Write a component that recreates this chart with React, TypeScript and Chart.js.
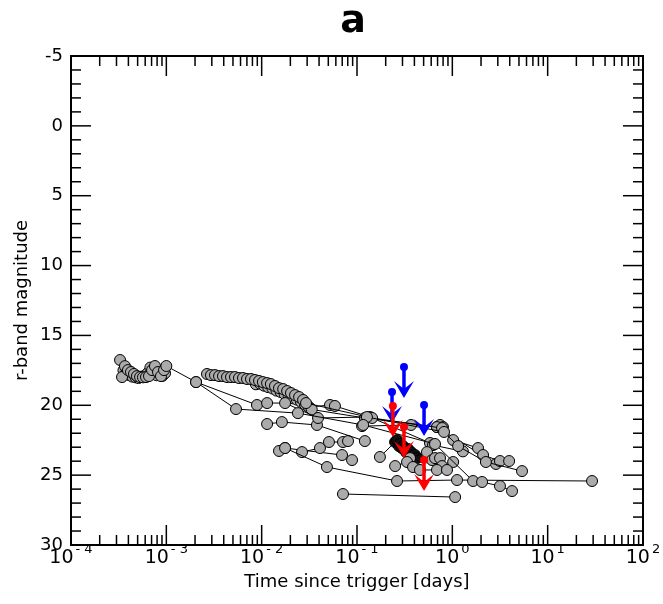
import React, { useEffect, useRef } from "react";
import { Chart, registerables } from "chart.js";
Chart.register(...registerables);

type Pt = [number, number];

// light curves: [time since trigger (days), r-band magnitude]
const curveEarly: Pt[] = [
  [3.27e-4, 16.76], [3.43e-4, 17.98], [3.68e-4, 17.2], [3.96e-4, 17.48], [4.26e-4, 17.62],
  [4.58e-4, 17.76], [4.92e-4, 17.91], [5.3e-4, 17.98], [5.69e-4, 18.0], [6.12e-4, 17.98],
  [6.58e-4, 17.91], [7.08e-4, 17.48], [7.6e-4, 17.19], [8.18e-4, 17.62], [8.79e-4, 17.91],
  [9.46e-4, 17.48], [1.0e-3, 17.19], [2.05e-3, 18.34], [5.38e-3, 20.27], [2.4e-2, 20.56],
  [0.116, 21.41], [0.658, 22.77], [1.65, 25.42], [2.05, 25.49], [3.16, 25.78], [4.23, 26.14],
];
const curveEarlyB: Pt[] = [
  [3.55e-4, 17.5], [3.8e-4, 17.7], [4.1e-4, 17.85], [4.4e-4, 17.95], [4.75e-4, 18.0],
  [5.1e-4, 18.05], [5.5e-4, 17.95], [5.9e-4, 17.9], [6.35e-4, 17.7], [6.8e-4, 17.3],
  [7.3e-4, 17.5], [7.9e-4, 17.85], [8.5e-4, 17.6], [9.1e-4, 17.9], [9.7e-4, 17.7],
];
const curveB: Pt[] = [
  [2.05e-3, 18.34], [8.93e-3, 19.98], [1.14e-2, 19.84], [1.76e-2, 19.84], [3.9e-2, 20.91],
  [0.127, 20.84], [0.818, 21.91], [1.15, 22.92], [2.25, 24.06], [5.38, 24.71],
];
const curveChainA: Pt[] = [
  [2.67e-3, 17.76], [2.94e-3, 17.84], [3.24e-3, 17.84], [3.57e-3, 17.91], [3.93e-3, 17.91],
  [4.33e-3, 17.98], [4.77e-3, 17.98], [5.25e-3, 17.98], [5.78e-3, 18.05], [6.37e-3, 18.05],
  [7.02e-3, 18.12], [7.73e-3, 18.12], [8.51e-3, 18.19], [9.38e-3, 18.26], [1.03e-2, 18.34],
  [1.14e-2, 18.41], [1.25e-2, 18.48], [1.38e-2, 18.62], [1.52e-2, 18.77], [1.68e-2, 18.84],
  [1.85e-2, 18.98], [2.03e-2, 19.12], [2.24e-2, 19.27], [2.47e-2, 19.41], [2.72e-2, 19.62],
  [2.92e-2, 19.84], [0.144, 20.91], [0.78, 21.63], [1.02, 22.49], [1.86, 23.06], [2.1, 23.56],
  [3.16, 23.99], [3.94, 23.99],
];
const curveChainB: Pt[] = [
  [8.7e-3, 18.5], [9.6e-3, 18.45], [1.06e-2, 18.6], [1.17e-2, 18.7], [1.3e-2, 18.8],
  [1.43e-2, 18.95], [1.58e-2, 19.05], [1.74e-2, 19.2], [1.92e-2, 19.35], [2.12e-2, 19.5],
  [2.34e-2, 19.6], [2.58e-2, 19.75], [2.85e-2, 19.95], [3.1e-2, 20.1], [3.35e-2, 20.3],
  [0.121, 20.91], [0.69, 21.56], [2.87, 24.2],
];
const curveC: Pt[] = [[1.14e-2, 21.34], [1.63e-2, 21.2], [3.8e-2, 21.41], [0.121, 22.56]];
const curveD: Pt[] = [
  [1.52e-2, 23.27], [1.76e-2, 23.06], [4.84e-2, 24.42], [0.263, 25.42], [1.12, 25.35], [29.2, 25.42],
];
const curveE: Pt[] = [[2.65e-2, 23.35], [4.09e-2, 23.06], [5.08e-2, 22.63], [7.13e-2, 22.63], [8.05e-2, 22.56]];
const curveF: Pt[] = [[1.76e-2, 23.06], [6.97e-2, 23.56], [8.87e-2, 23.92]];
const curveG: Pt[] = [[7.13e-2, 26.35], [1.07, 26.57]];
const curveH: Pt[] = [[0.251, 24.35], [0.335, 24.06], [0.387, 24.42], [0.458, 24.63], [0.69, 24.63], [0.879, 24.63]];
const curveI: Pt[] = [[0.36, 23.78], [0.542, 23.35], [0.612, 23.92], [0.658, 23.78], [0.743, 23.78], [0.78, 24.35], [1.02, 24.06]];
const curveJ: Pt[] = [[0.113, 21.49], [0.369, 21.41], [0.69, 21.56], [0.743, 21.41], [0.798, 21.56]];
const curveK: Pt[] = [[3.14e-2, 20.13], [5.21e-2, 19.98], [5.87e-2, 20.05], [0.137, 20.84], [0.583, 22.7], [0.627, 22.85], [1.29, 23.3]];
const curveDense: Pt[] = [
  [0.174, 23.7], [0.251, 22.63], [0.263, 22.49], [0.276, 22.92], [0.282, 22.77], [0.296, 23.06],
  [0.304, 22.92], [0.319, 23.2], [0.327, 23.35], [0.343, 23.13], [0.351, 23.49], [0.369, 23.35],
  [0.387, 23.63], [0.406, 23.56], [0.427, 23.78],
];

const greyCurves: Pt[][] = [
  curveEarly, curveEarlyB, curveB, curveChainA, curveChainB, curveC, curveD, curveE, curveF,
  curveG, curveH, curveI, curveJ, curveK,
];

// upper limits (arrows)
const blueLimitTimes = [0.311, 0.233, 0.505];
const blueLimitMags = [17.26, 19.05, 19.98];
const redLimitTimes = [0.238, 0.311, 0.505];
const redLimitMags = [20.05, 21.56, 23.92];

const yTickValues = [-5, 0, 5, 10, 15, 20, 25, 30];
const xTickExponents = [-4, -3, -2, -1, 0, 1, 2];

const titleText = "a";
const xTitle = "Time since trigger [days]";
const yTitle = "r-band magnitude";

const FONT = "'DejaVu Sans', sans-serif";
const GREY = "#ababab";

const decorPlugin = {
  id: "decor",
  afterDatasetsDraw(chart: any) {
    const { ctx, scales } = chart;
    const xs = scales.x, ys = scales.y;
    const drawArrow = (t: number, m: number, color: string) => {
      const px = xs.getPixelForValue(t);
      const py = ys.getPixelForValue(m);
      const tip = py + 31;
      ctx.save();
      ctx.strokeStyle = color;
      ctx.fillStyle = color;
      ctx.lineWidth = 3.5;
      ctx.beginPath();
      ctx.moveTo(px, py);
      ctx.lineTo(px, tip - 8);
      ctx.stroke();
      ctx.beginPath();
      ctx.moveTo(px, tip);
      ctx.lineTo(px - 10, tip - 17);
      ctx.lineTo(px, tip - 9);
      ctx.lineTo(px + 10, tip - 17);
      ctx.closePath();
      ctx.fill();
      ctx.beginPath();
      ctx.arc(px, py, 4, 0, Math.PI * 2);
      ctx.fill();
      ctx.restore();
    };
    blueLimitTimes.forEach((t, i) => drawArrow(t, blueLimitMags[i], "#0000ff"));
    redLimitTimes.forEach((t, i) => drawArrow(t, redLimitMags[i], "#ff0000"));
  },
  afterDraw(chart: any) {
    const { ctx, chartArea: a, scales } = chart;
    const xs = scales.x, ys = scales.y;
    ctx.save();
    ctx.strokeStyle = "#000";
    ctx.lineWidth = 1.5;
    const seg = (x1: number, y1: number, x2: number, y2: number) => {
      ctx.beginPath();
      ctx.moveTo(x1, y1);
      ctx.lineTo(x2, y2);
      ctx.stroke();
    };
    for (let v = -5; v <= 30; v++) {
      const py = ys.getPixelForValue(v);
      const len = v % 5 === 0 ? 20 : 10;
      seg(a.left, py, a.left + len, py);
      seg(a.right, py, a.right - len, py);
    }
    for (const e of xTickExponents) {
      for (let k = 1; k <= 9; k++) {
        const v = k * Math.pow(10, e);
        if (v > 100.0001) break;
        const px = xs.getPixelForValue(v);
        const len = k === 1 ? 20 : 10;
        seg(px, a.bottom, px, a.bottom - len);
        seg(px, a.top, px, a.top + len);
      }
    }
    ctx.lineWidth = 2;
    ctx.strokeRect(a.left, a.top, a.right - a.left, a.bottom - a.top);

    ctx.fillStyle = "#000";
    // y tick labels
    ctx.font = `18px ${FONT}`;
    ctx.textAlign = "right";
    ctx.textBaseline = "middle";
    for (const v of yTickValues) {
      ctx.fillText(String(v), a.left - 8, ys.getPixelForValue(v));
    }
    // x tick labels 10^e
    for (const e of xTickExponents) {
      const px = xs.getPixelForValue(Math.pow(10, e));
      const base = "10";
      const exp = e < 0 ? "- " + Math.abs(e) : String(e);
      ctx.font = `19px ${FONT}`;
      const wb = ctx.measureText(base).width;
      ctx.font = `13px ${FONT}`;
      const we = ctx.measureText(exp).width;
      const total = wb + 2 + we;
      const x0 = px - total / 2;
      ctx.textAlign = "left";
      ctx.textBaseline = "alphabetic";
      ctx.font = `19px ${FONT}`;
      ctx.fillText(base, x0, a.bottom + 18);
      ctx.font = `13px ${FONT}`;
      ctx.fillText(exp, x0 + wb + 2, a.bottom + 8);
    }
    // axis titles
    ctx.font = `18px ${FONT}`;
    ctx.textAlign = "center";
    ctx.textBaseline = "middle";
    ctx.fillText(xTitle, (a.left + a.right) / 2, 582);
    ctx.save();
    ctx.translate(22, (a.top + a.bottom) / 2);
    ctx.rotate(-Math.PI / 2);
    ctx.fillText(yTitle, 0, 0);
    ctx.restore();
    // title
    ctx.font = `bold 38px ${FONT}`;
    ctx.textBaseline = "alphabetic";
    ctx.fillText(titleText, (a.left + a.right) / 2 - 4, 32);
    ctx.restore();
  },
};

export default function App() {
  const ref = useRef<HTMLCanvasElement | null>(null);
  useEffect(() => {
    document.body.style.margin = "0";
    const canvas = ref.current;
    if (!canvas) return;
    const mk = (pts: Pt[]) => pts.map(([x, y]) => ({ x, y }));
    const datasets: any[] = greyCurves.map((c) => ({
      data: mk(c),
      showLine: true,
      borderColor: "#000",
      borderWidth: 1,
      pointRadius: 5.5,
      pointBackgroundColor: GREY,
      pointBorderColor: "#000",
      pointBorderWidth: 1,
    }));
    datasets.push({
      data: mk(curveDense),
      showLine: true,
      borderColor: "#000",
      borderWidth: 1,
      pointRadius: 5.5,
      pointBackgroundColor: curveDense.map((_, i) => (i === 0 ? GREY : "#111")),
      pointBorderColor: "#000",
      pointBorderWidth: 1,
    });
    const chart = new Chart(canvas, {
      type: "scatter",
      data: { datasets },
      options: {
        animation: false,
        responsive: false,
        devicePixelRatio: 1,
        layout: { padding: { top: 56, right: 20, left: 0, bottom: 0 } },
        plugins: { legend: { display: false }, tooltip: { enabled: false }, title: { display: false } },
        scales: {
          x: {
            type: "logarithmic",
            min: 1e-4,
            max: 100,
            grid: { display: false },
            border: { display: false },
            ticks: { display: false },
            afterFit: (s: any) => { s.height = 59; },
          },
          y: {
            type: "linear",
            min: -5,
            max: 30,
            reverse: true,
            grid: { display: false },
            border: { display: false },
            ticks: { display: false },
            afterFit: (s: any) => { s.width = 71; },
          },
        },
      } as any,
      plugins: [decorPlugin],
    });
    return () => chart.destroy();
  }, []);
  return <canvas ref={ref} width={663} height={604} style={{ display: "block" }} />;
}
